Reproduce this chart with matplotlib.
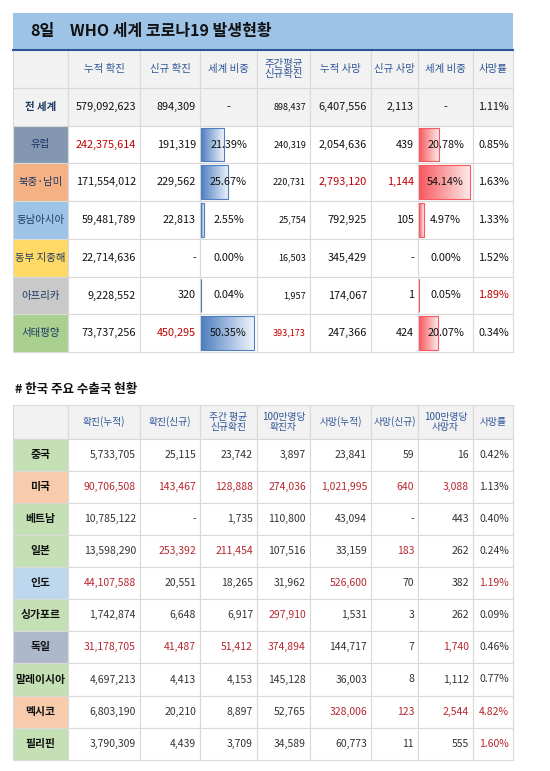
import matplotlib
matplotlib.use("Agg")
import matplotlib.pyplot as plt
import numpy as np
from matplotlib.patches import Rectangle
from matplotlib.colors import LinearSegmentedColormap

plt.rcParams['font.family'] = ['Noto Sans CJK KR', 'DejaVu Sans']

# ---------------- data: top table ----------------
top_headers = ["누적 확진", "신규 확진", "세계 비중", "주간평균\n신규확진", "누적 사망", "신규 사망", "세계 비중", "사망률"]
regions = ["전 세계", "유럽", "북중·남미", "동남아시아", "동부 지중해", "아프리카", "서태평양"]
cum_cases = ["579,092,623", "242,375,614", "171,554,012", "59,481,789", "22,714,636", "9,228,552", "73,737,256"]
new_cases = ["894,309", "191,319", "229,562", "22,813", "-", "320", "450,295"]
share_cases = [None, 21.39, 25.67, 2.55, 0.00, 0.04, 50.35]
weekly_avg = ["898,437", "240,319", "220,731", "25,754", "16,503", "1,957", "393,173"]
cum_deaths = ["6,407,556", "2,054,636", "2,793,120", "792,925", "345,429", "174,067", "247,366"]
new_deaths = ["2,113", "439", "1,144", "105", "-", "1", "424"]
share_deaths = [None, 20.78, 54.14, 4.97, 0.00, 0.05, 20.07]
fatality = ["1.11%", "0.85%", "1.63%", "1.33%", "1.52%", "1.89%", "0.34%"]
top_red = {(1, 0), (2, 4), (2, 5), (5, 7), (6, 1), (6, 3)}
region_colors = ["#f2f2f2", "#8497b0", "#f4b183", "#9dc3e6", "#ffd966", "#c9c9c9", "#a9d08e"]

# ---------------- data: bottom table ----------------
bot_headers = ["확진(누적)", "확진(신규)", "주간 평균\n신규확진", "100만명당\n확진자", "사망(누적)", "사망(신규)", "100만명당\n사망자", "사망률"]
countries = ["중국", "미국", "베트남", "일본", "인도", "싱가포르", "독일", "말레이시아", "멕시코", "필리핀"]
c_cum = ["5,733,705", "90,706,508", "10,785,122", "13,598,290", "44,107,588", "1,742,874", "31,178,705", "4,697,213", "6,803,190", "3,790,309"]
c_new = ["25,115", "143,467", "-", "253,392", "20,551", "6,648", "41,487", "4,413", "20,210", "4,439"]
c_week = ["23,742", "128,888", "1,735", "211,454", "18,265", "6,917", "51,412", "4,153", "8,897", "3,709"]
c_permil = ["3,897", "274,036", "110,800", "107,516", "31,962", "297,910", "374,894", "145,128", "52,765", "34,589"]
c_deaths = ["23,841", "1,021,995", "43,094", "33,159", "526,600", "1,531", "144,717", "36,003", "328,006", "60,773"]
c_newd = ["59", "640", "-", "183", "70", "3", "7", "8", "123", "11"]
c_permild = ["16", "3,088", "443", "262", "382", "262", "1,740", "1,112", "2,544", "555"]
c_fatal = ["0.42%", "1.13%", "0.40%", "0.24%", "1.19%", "0.09%", "0.46%", "0.77%", "4.82%", "1.60%"]
bot_red = {(1, 0), (1, 1), (1, 2), (1, 3), (1, 4), (1, 5), (1, 6), (3, 1), (3, 2), (3, 5),
           (4, 0), (4, 4), (4, 7), (5, 3), (6, 0), (6, 1), (6, 2), (6, 3), (6, 6),
           (8, 4), (8, 5), (8, 6), (8, 7), (9, 7)}
country_colors = ["#c5e0b4", "#f8cbad", "#c5e0b4", "#c5e0b4", "#bdd7ee", "#c5e0b4", "#adb9ca", "#c5e0b4", "#f8cbad", "#c5e0b4"]

RED = "#c00000"
RED2 = "#b4282e"
GRID = "#d9d9d9"
HDR_TXT = "#2e5597"

fig = plt.figure(figsize=(5.5, 7.71), dpi=100)
ax = fig.add_axes([0, 0, 1, 1])
ax.set_xlim(0, 550)
ax.set_ylim(771, 0)
ax.axis('off')

cols = [13, 68, 140, 200, 257, 310, 371, 418, 473, 513]

def rect(x0, y0, x1, y1, fc, ec=GRID, lw=0.8, z=1):
    ax.add_patch(Rectangle((x0, y0), x1 - x0, y1 - y0, facecolor=fc, edgecolor=ec, lw=lw, zorder=z))

def gbar(x0, y0, w, h, c_dark, c_light):
    if w <= 0:
        return
    grad = np.linspace(0, 1, 50).reshape(1, -1)
    cm = LinearSegmentedColormap.from_list("g", [c_dark, c_light])
    ax.imshow(grad, cmap=cm, extent=(x0, x0 + w, y0 + h, y0), aspect='auto', zorder=2)
    ax.add_patch(Rectangle((x0, y0), w, h, fill=False, edgecolor=c_dark, lw=0.8, zorder=3))

# ---------- top title ----------
rect(13, 13, 513, 50, "#9dc3e6", ec="none")
ax.plot([13, 513], [50, 50], color="#2f5597", lw=1.5, zorder=4)
ax.text(30, 31, "8일", fontsize=11.5, fontweight='bold', va='center', ha='left', color="#111")
ax.text(70, 31, "WHO 세계 코로나19 발생현황", fontsize=11.5, fontweight='bold', va='center', ha='left', color="#111")

top_rows = [50, 88, 126, 163, 201, 239, 277, 314, 352]
for j in range(9):
    rect(cols[j], 50, cols[j + 1], 88, "#f2f2f2")
for j, h in enumerate(top_headers):
    ax.text((cols[j + 1] + cols[j + 2]) / 2, 69, h, fontsize=7.5, color=HDR_TXT, ha='center', va='center', linespacing=1.1)

top_cols = [cum_cases, new_cases, share_cases, weekly_avg, cum_deaths, new_deaths, share_deaths, fatality]
for i in range(len(regions)):
    y0, y1 = top_rows[i + 1], top_rows[i + 2]
    ym = (y0 + y1) / 2
    rect(cols[0], y0, cols[1], y1, region_colors[i])
    for j in range(1, 9):
        rect(cols[j], y0, cols[j + 1], y1, "#f2f2f2" if i == 0 else "white")
    ax.text((cols[0] + cols[1]) / 2, ym, regions[i], fontsize=7.5, color="#1f3864", ha='center', va='center',
            fontweight='bold' if i == 0 else 'normal')
    for k, arr in enumerate(top_cols):
        v = arr[i]
        xl, xr = cols[k + 1], cols[k + 2]
        color = RED if (i, k) in top_red else "#111"
        if k in (2, 6):
            if v is None:
                s = "-"
            else:
                s = f"{v:.2f}%"
                mx = max(x for x in arr if x is not None)
                w = (xr - xl - 4) * v / mx
                if k == 2:
                    gbar(xl + 1, y0 + 2, w, y1 - y0 - 4, "#4f7fc0", "#eef3fb")
                else:
                    gbar(xl + 1, y0 + 2, w, y1 - y0 - 4, "#f8595f", "#fde8e8")
            ax.text((xl + xr) / 2, ym, s, fontsize=7.8, color=color, ha='center', va='center', zorder=5)
        else:
            fs = 6.5 if k == 3 else 7.8
            ax.text(xr - 4, ym, v, fontsize=fs, color=color, ha='right', va='center', zorder=5)

# ---------- bottom ----------
ax.text(15, 390, "# 한국 주요 수출국 현황", fontsize=9, fontweight='bold', ha='left', va='center', color="#111")
bot_rows = [405, 439, 471, 503, 535, 567, 599, 631, 663, 696, 728, 760]
for j in range(9):
    rect(cols[j], 405, cols[j + 1], 439, "#f2f2f2")
for j, h in enumerate(bot_headers):
    ax.text((cols[j + 1] + cols[j + 2]) / 2, 422, h, fontsize=7, color=HDR_TXT, ha='center', va='center', linespacing=1.1)

bot_cols = [c_cum, c_new, c_week, c_permil, c_deaths, c_newd, c_permild, c_fatal]
for i in range(len(countries)):
    y0, y1 = bot_rows[i + 1], bot_rows[i + 2]
    ym = (y0 + y1) / 2
    rect(cols[0], y0, cols[1], y1, country_colors[i])
    for j in range(1, 9):
        rect(cols[j], y0, cols[j + 1], y1, "white")
    ax.text((cols[0] + cols[1]) / 2, ym, countries[i], fontsize=7.8, fontweight='bold', color="#111", ha='center', va='center')
    for k, arr in enumerate(bot_cols):
        color = RED2 if (i, k) in bot_red else "#333"
        ax.text(cols[k + 2] - 4, ym, arr[i], fontsize=7.5, color=color, ha='right', va='center')

fig.savefig("out.png", dpi=100)
